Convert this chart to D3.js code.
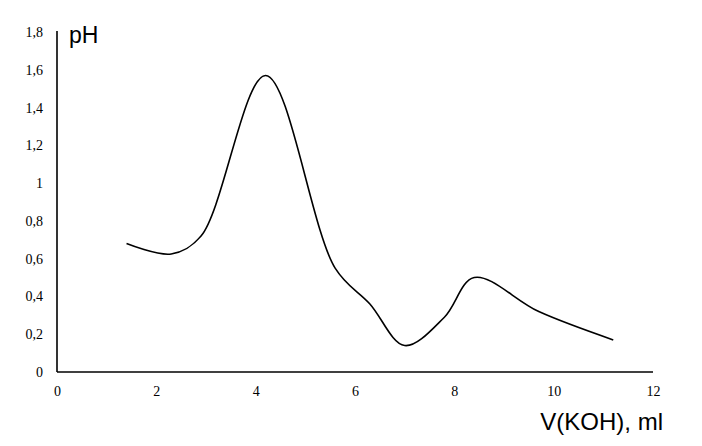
<!DOCTYPE html>
<html><head><meta charset="utf-8">
<script src="https://cdn.jsdelivr.net/npm/d3@7"></script>
<style>body{margin:0;background:#fff}</style>
</head><body>
<svg id="c" width="702" height="446"></svg>
<script>
const volume = [1.4, 2.3, 2.9, 4.2, 5.6, 6.3, 7.0, 7.8, 8.4, 9.7, 11.2];
const phValue = [0.68, 0.625, 0.72, 1.57, 0.55, 0.36, 0.14, 0.29, 0.50, 0.32, 0.17];
const xTicks = [0, 2, 4, 6, 8, 10, 12];
const yTicks = [0, 0.2, 0.4, 0.6, 0.8, 1, 1.2, 1.4, 1.6, 1.8];

const svg = d3.select("#c");
const x = d3.scaleLinear().domain([0, 12]).range([57, 653]);
const y = d3.scaleLinear().domain([0, 1.8]).range([372, 32]);
const fmt = v => String(+v.toFixed(1)).replace(".", ",");

const xAxis = svg.append("g").attr("transform", `translate(0,${y(0)})`)
  .call(d3.axisBottom(x).tickValues(xTicks).tickSize(0).tickPadding(14).tickFormat(fmt));
xAxis.select(".domain").attr("stroke", "#000").attr("stroke-width", 1.6).attr("d", `M${x(0)},0H${x(12)}`);
xAxis.selectAll("text").attr("font-family", "'Liberation Serif','Times New Roman',serif").attr("font-size", 14).attr("fill", "#000");

const yAxis = svg.append("g").attr("transform", `translate(${x(0)},0)`)
  .call(d3.axisLeft(y).tickValues(yTicks).tickSize(0).tickPadding(14).tickFormat(fmt));
yAxis.select(".domain").attr("stroke", "#000").attr("stroke-width", 1.6).attr("d", `M0,${y(1.8)-1}V${y(0)}`);
yAxis.selectAll("text").attr("font-family", "'Liberation Serif','Times New Roman',serif").attr("font-size", 14).attr("fill", "#000");

const pts = volume.map((v, i) => [v, phValue[i]]);
svg.append("path").datum(pts)
  .attr("fill", "none").attr("stroke", "#000").attr("stroke-width", 1.6)
  .attr("d", d3.line().x(d => x(d[0])).y(d => y(d[1])).curve(d3.curveCatmullRom.alpha(0.5)));

svg.append("text").attr("x", 69).attr("y", 43).attr("font-family", "'Liberation Sans',Arial,sans-serif")
  .attr("font-size", 23).attr("fill", "#000").text("pH");
svg.append("text").attr("x", 663).attr("y", 430).attr("text-anchor", "end").attr("font-family", "'Liberation Sans',Arial,sans-serif")
  .attr("font-size", 24).attr("fill", "#000").text("V(KOH), ml");
</script>
</body></html>
